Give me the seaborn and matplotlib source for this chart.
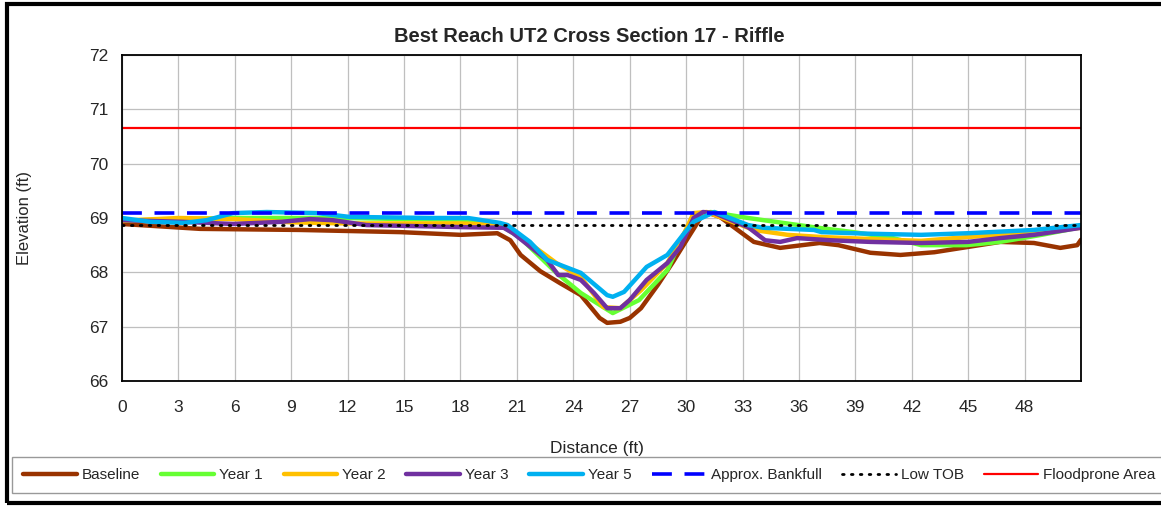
import matplotlib
matplotlib.use("Agg")
import matplotlib.pyplot as plt
from matplotlib.patches import Rectangle
import numpy as np
import seaborn as sns

# ---- data (distance ft, elevation ft) ----
base_x = [0, 4.15, 9.47, 14.8, 18.0, 19.96, 20.65, 21.2, 22.25, 23.3, 24.4, 25.4, 25.8,
          26.5, 27.0, 27.6, 28.5, 29.3, 30.2, 30.8, 31.3, 31.8, 33.6, 35.0, 37.1, 38.1,
          39.8, 41.4, 43.2, 46.7, 48.5, 49.9, 50.8, 51.0]
base_y = [68.89, 68.80, 68.78, 68.74, 68.69, 68.72, 68.59, 68.32, 68.02, 67.80, 67.58, 67.16, 67.07,
          67.09, 67.16, 67.34, 67.77, 68.19, 68.69, 69.02, 69.08, 69.02, 68.56, 68.45, 68.54, 68.50,
          68.36, 68.32, 68.37, 68.56, 68.54, 68.45, 68.50, 68.60]

yr1_x = [0, 3, 6, 9, 12, 15, 18, 20.3, 21.2, 23.1, 24.4, 26.1, 27.5, 29.0, 29.8, 30.4,
         31.3, 33.3, 36.8, 38.9, 41.0, 42.5, 44.9, 46.7, 48.9, 51.0]
yr1_y = [68.95, 68.98, 69.0, 69.0, 69.0, 68.98, 68.97, 68.83, 68.63, 67.99, 67.62, 67.25, 67.49,
         68.04, 68.65, 69.02, 69.11, 69.0, 68.83, 68.74, 68.63, 68.50, 68.50, 68.56, 68.69, 68.83]

yr2_x = [0, 3, 6, 9, 12, 15, 18, 20.5, 21.3, 23.1, 24.4, 25.6, 26.5, 27.6, 29.0, 29.9,
         30.4, 31.1, 33.6, 35.4, 37.2, 40.7, 42.5, 45.0, 46.7, 51.0]
yr2_y = [68.95, 69.0, 68.98, 68.92, 68.90, 68.90, 68.90, 68.87, 68.63, 68.17, 67.91, 67.36, 67.34,
         67.67, 68.17, 68.72, 69.09, 69.11, 68.78, 68.69, 68.65, 68.60, 68.58, 68.65, 68.69, 68.82]

yr3_x = [0, 3.2, 5.9, 8.5, 10.0, 11.2, 13.0, 18.4, 20.3, 20.8, 22.6, 23.2, 23.7, 24.4,
         25.1, 25.8, 26.5, 27.0, 27.9, 29.0, 29.7, 30.4, 30.9, 31.5, 33.3, 34.2, 35.0,
         35.9, 37.7, 39.8, 42.5, 45.0, 46.7, 48.5, 51.0]
yr3_y = [68.96, 68.93, 68.89, 68.93, 68.98, 68.96, 68.87, 68.83, 68.82, 68.72, 68.23, 67.95, 67.95, 67.86,
         67.62, 67.34, 67.34, 67.49, 67.86, 68.17, 68.47, 69.0, 69.11, 69.09, 68.83, 68.59, 68.56,
         68.63, 68.59, 68.56, 68.54, 68.56, 68.63, 68.69, 68.82]

yr5_x = [0, 1.5, 3.3, 4.5, 5.9, 7.7, 10.4, 12.1, 16.5, 18.4, 20.1, 20.5, 21.7, 22.6,
         24.4, 25.8, 26.1, 26.7, 27.9, 29.0, 29.9, 30.4, 31.5, 33.3, 34.1, 36.8, 37.2,
         39.8, 42.5, 45.0, 48.5, 51.0]
yr5_y = [69.0, 68.93, 68.91, 68.96, 69.09, 69.11, 69.09, 69.02, 69.0, 69.0, 68.91, 68.87, 68.56, 68.23,
         67.99, 67.58, 67.55, 67.64, 68.10, 68.32, 68.72, 68.93, 69.11, 68.87, 68.82, 68.78, 68.74,
         68.71, 68.69, 68.72, 68.78, 68.87]

ref_x = [0, 51]
bankfull = 69.09
low_tob = 68.87
floodprone = 70.66

x_ticks = np.arange(0, 49, 3)
y_ticks = np.arange(66, 73, 1)

sns.set_style("white")
plt.rcParams['font.family'] = ['Liberation Sans', 'DejaVu Sans']

fig = plt.figure(figsize=(11.61, 5.07), dpi=100)
ax = fig.add_axes([122/1161, 1 - 381/507, (1081-122)/1161, (381-55)/507])

series = [
    (base_x, base_y, '#993300', 'Baseline'),
    (yr1_x, yr1_y, '#66FF33', 'Year 1'),
    (yr2_x, yr2_y, '#FFC000', 'Year 2'),
    (yr3_x, yr3_y, '#7030A0', 'Year 3'),
    (yr5_x, yr5_y, '#00B0F0', 'Year 5'),
]
for xs, ys, c, lab in series:
    sns.lineplot(x=xs, y=ys, color=c, linewidth=3.2, label=lab, ax=ax,
                 sort=False, estimator=None, solid_capstyle='round')

sns.lineplot(x=ref_x, y=[bankfull]*2, color='#0000FF', linewidth=2.6, ax=ax,
             label='Approx. Bankfull', linestyle=(0, (5.5, 3.5)))
sns.lineplot(x=ref_x, y=[low_tob]*2, color='black', linewidth=2.0, ax=ax,
             label='Low TOB', linestyle=(0, (0.6, 2.6)), dash_capstyle='round')
sns.lineplot(x=ref_x, y=[floodprone]*2, color='#FF0000', linewidth=1.6, ax=ax,
             label='Floodprone Area')

ax.set_xlim(0, 51)
ax.set_ylim(66, 72)
ax.set_xticks(x_ticks)
ax.set_yticks(y_ticks)
ax.tick_params(axis='both', labelsize=12.5, direction='out', length=4, width=0.8, color='#808080')
ax.tick_params(axis='x', pad=10)
ax.tick_params(axis='y', pad=6)
ax.grid(True, color='#BFBFBF', linewidth=0.9)
for s in ax.spines.values():
    s.set_color('black')
    s.set_linewidth(1.3)

ax.set_title('Best Reach UT2 Cross Section 17 - Riffle', fontsize=14.5, fontweight='bold',
             pad=9, x=(589-122)/(1081-122))
ax.set_xlabel('Distance (ft)', fontsize=12.5)
ax.set_ylabel('Elevation (ft)', fontsize=12)
ax.xaxis.set_label_coords((597-122)/(1081-122), -(441-381)/(381-55))
ax.yaxis.set_label_coords(-(122-32)/(1081-122), 0.5)

handles, labels = ax.get_legend_handles_labels()
ax.get_legend().remove()
leg = fig.legend(handles, labels, ncol=8, loc='center left',
                 bbox_to_anchor=(12/1161, 1 - 475/507),
                 fontsize=11, frameon=True, fancybox=False, handlelength=3.5,
                 handletextpad=0.33, columnspacing=1.35, borderaxespad=0,
                 borderpad=0.75)
leg.get_frame().set_edgecolor('#808080')
leg.get_frame().set_linewidth(1.0)

fig.patches.append(Rectangle((7/1161, 4/507), 1.2, 499/507, transform=fig.transFigure,
                             fill=False, edgecolor='black', linewidth=3, zorder=10))

fig.savefig('out.png', dpi=100)
